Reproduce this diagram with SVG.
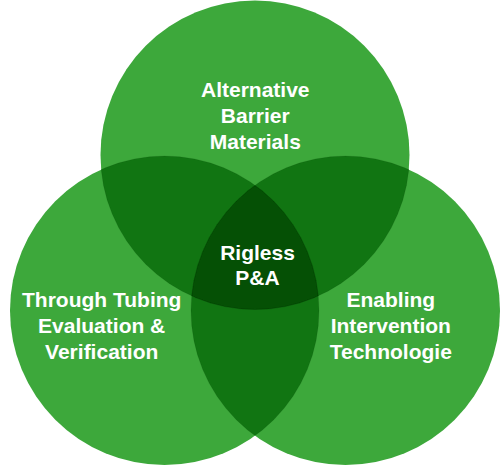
<svg xmlns="http://www.w3.org/2000/svg" width="500" height="466" viewBox="0 0 500 466">
<style>
.c1{fill:#3da83b}
.c2{fill:#117512}
.c3{fill:#055005}
.edge{fill:none;stroke:#000;stroke-opacity:0.08;stroke-width:1}
text{font-family:"Liberation Sans",Arial,sans-serif;font-weight:bold;font-size:21px;fill:#fff;text-anchor:middle}
</style>
<defs>
<clipPath id="clipTop"><circle cx="255" cy="155" r="154.5"/></clipPath>
<clipPath id="clipLeft"><circle cx="164.5" cy="310.5" r="154.5"/></clipPath>
<clipPath id="clipRight"><circle cx="345.5" cy="310.5" r="154.5"/></clipPath>
</defs>
<g id="circles">
<circle class="c1" cx="255" cy="155" r="154.5"/>
<circle class="c1" cx="164.5" cy="310.5" r="154.5"/>
<circle class="c1" cx="345.5" cy="310.5" r="154.5"/>
<g clip-path="url(#clipTop)">
<circle class="c2" cx="164.5" cy="310.5" r="154.5"/>
<circle class="c2" cx="345.5" cy="310.5" r="154.5"/>
</g>
<g clip-path="url(#clipLeft)">
<circle class="c2" cx="345.5" cy="310.5" r="154.5"/>
</g>
<g clip-path="url(#clipTop)"><g clip-path="url(#clipLeft)">
<circle class="c3" cx="345.5" cy="310.5" r="154.5"/>
</g></g>
<g clip-path="url(#clipTop)"><circle class="edge" cx="164.5" cy="310.5" r="154.5"/><circle class="edge" cx="345.5" cy="310.5" r="154.5"/></g>
<g clip-path="url(#clipLeft)"><circle class="edge" cx="255" cy="155" r="154.5"/><circle class="edge" cx="345.5" cy="310.5" r="154.5"/></g>
<g clip-path="url(#clipRight)"><circle class="edge" cx="255" cy="155" r="154.5"/><circle class="edge" cx="164.5" cy="310.5" r="154.5"/></g>
</g>
<g id="node-top">
<text x="255.3" y="97">Alternative</text>
<text x="255.3" y="123">Barrier</text>
<text x="255.3" y="149">Materials</text>
</g>
<g id="node-left">
<text x="101.7" y="307">Through Tubing</text>
<text x="101.7" y="333">Evaluation &amp;</text>
<text x="101.7" y="359">Verification</text>
</g>
<g id="node-right">
<text x="390.8" y="307">Enabling</text>
<text x="390.8" y="333">Intervention</text>
<text x="390.8" y="359">Technologie</text>
</g>
<g id="node-center">
<text x="257.5" y="260">Rigless</text>
<text x="257.5" y="285">P&amp;A</text>
</g>
</svg>
